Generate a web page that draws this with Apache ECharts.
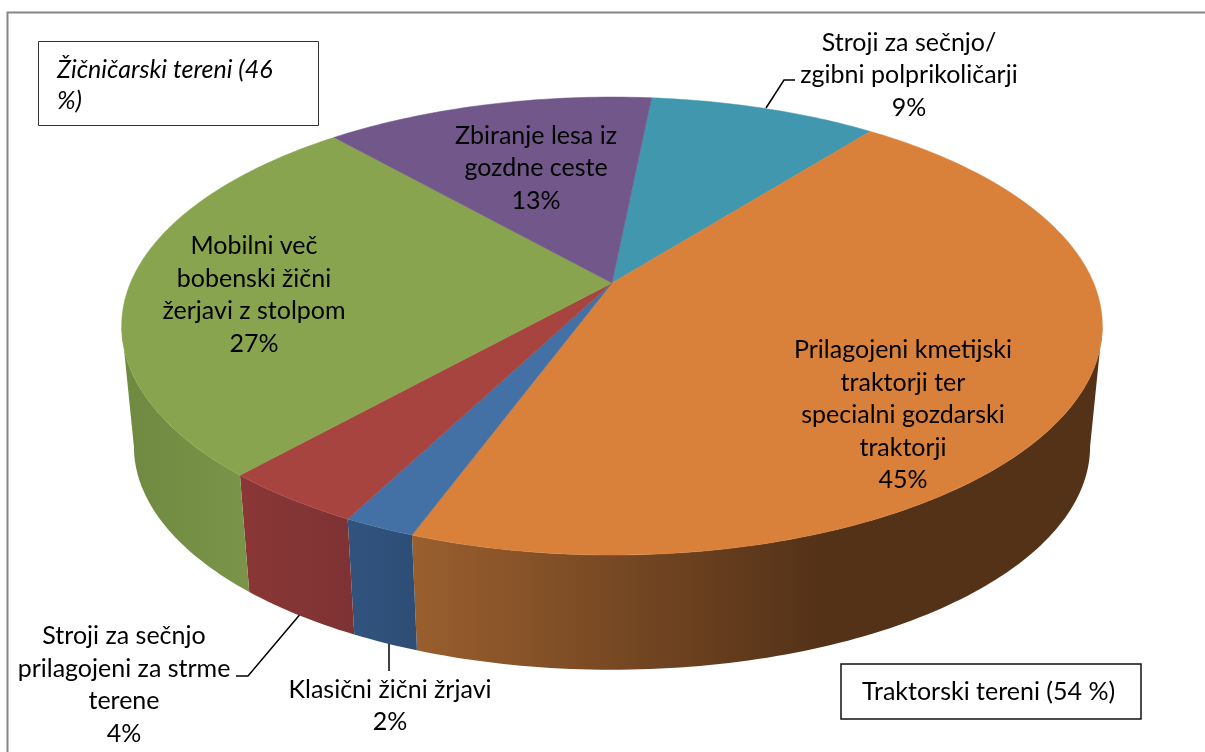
<!DOCTYPE html>
<html>
<head>
<meta charset="utf-8">
<style>
  html, body { margin: 0; padding: 0; background: #fff; }
  #chart { width: 1205px; height: 752px; }
</style>
<script src="https://cdn.jsdelivr.net/npm/echarts@6/dist/echarts.min.js"></script>
</head>
<body>
<div id="chart"></div>
<script>
// data, in drawing order (clockwise from the purple/teal edge)
const categories = [
  'Stroji za sečnjo/\nzgibni polprikoličarji',
  'Prilagojeni kmetijski\ntraktorji ter\nspecialni gozdarski\ntraktorji',
  'Klasični žični žrjavi',
  'Stroji za sečnjo\nprilagojeni za strme\nterene',
  'Mobilni več\nbobenski žični\nžerjavi z stolpom',
  'Zbiranje lesa iz\ngozdne ceste'
];
const shares = [9, 45, 2, 4, 27, 13];
const boxTexts = ['Žičničarski tereni (46\n%)', 'Traktorski tereni (54 %)'];

// styling, same order as the data
const topColors = ['#4197ae', '#d9803b', '#4371a5', '#a8443f', '#89a44f', '#72578b'];
const wallColors = [
  ['#2f6e80', '#2f6e80'],
  ['#9a5f2e', '#543218'],
  ['#31547f', '#2d4d75'],
  ['#8a3736', '#7e3233'],
  ['#6f8a40', '#7a9549'],
  ['#54406a', '#54406a']
];
const labelCenters = [[909, 75], [903, 415], [390, 706], [124, 685], [254, 295], [536, 168]];

const FONT = 'Lato, "Open Sans", sans-serif';
const FONT_SIZE = 25;
const LINE_H = 32.5;

// perspective disc: apex of the slices is not the centre of the ellipse
const CX = 612, CY = 283, RX = 481.6, RY = 220.9, PERSP = 0.188;
const START_ANGLE = 5.6;     // degrees clockwise from straight up
const DEPTH = 121.5, BASE_SCALE = 0.975;
const WIDEST = Math.acos(-PERSP) * 180 / Math.PI;   // angle where the ellipse is widest

const total = shares.reduce((a, b) => a + b, 0);

function sliceAngles(idx) {
  let from = START_ANGLE;
  for (let i = 0; i < idx; i++) from += shares[i] / total * 360;
  return [from, from + shares[idx] / total * 360];
}

function project(deg, base) {
  const a = deg * Math.PI / 180;
  const u = Math.sin(a), v = -Math.cos(a);
  const s = 1 / (1 - PERSP * v);
  const f = base ? BASE_SCALE : 1;
  return [CX + RX * f * u * s, CY + (base ? DEPTH : 0) + RY * f * v * s];
}

function arc(from, to, base) {
  const pts = [];
  const n = Math.max(2, Math.ceil(Math.abs(to - from)));
  for (let i = 0; i <= n; i++) pts.push(project(from + (to - from) * i / n, base));
  return pts;
}

function renderWall(params, api) {
  const idx = params.dataIndex;
  api.value(0);
  const ang = sliceAngles(idx);
  // only the front of the cake shows a wall, cut at the widest point of the ellipse
  const from = Math.max(ang[0], WIDEST), to = Math.min(ang[1], 360 - WIDEST);
  if (to <= from) return null;
  const pts = arc(from, to, false).concat(arc(to, from, true));
  const xs = pts.map(p => p[0]);
  const x0 = Math.min.apply(null, xs), x1 = Math.max.apply(null, xs);
  let stops;
  if (idx === 1) {
    stops = [
      { offset: 0, color: wallColors[idx][1] },
      { offset: 0.41, color: wallColors[idx][1] },
      { offset: 1, color: wallColors[idx][0] }
    ];
  } else {
    stops = [{ offset: 0, color: wallColors[idx][1] }, { offset: 1, color: wallColors[idx][0] }];
  }
  return {
    type: 'polygon',
    shape: { points: pts },
    style: { fill: new echarts.graphic.LinearGradient(x1, 0, x0, 0, stops, true) }
  };
}

function renderTop(params, api) {
  const idx = params.dataIndex;
  api.value(0);
  const ang = sliceAngles(idx);
  return {
    type: 'polygon',
    shape: { points: [[CX, CY]].concat(arc(ang[0], ang[1], false)) },
    style: { fill: topColors[idx], stroke: topColors[idx], lineWidth: 0.5 }
  };
}

function renderLabel(params, api) {
  const idx = params.dataIndex;
  const c = labelCenters[idx];
  return {
    type: 'text',
    style: {
      x: c[0], y: c[1],
      text: categories[idx] + '\n' + api.value(0) + '%',
      font: FONT_SIZE + 'px ' + FONT,
      fill: '#000',
      align: 'center',
      verticalAlign: 'middle',
      lineHeight: LINE_H
    }
  };
}

function leader(points) {
  return {
    type: 'polyline',
    shape: { points: points },
    style: { fill: null, stroke: '#000', lineWidth: 1.5 }
  };
}

const chart = echarts.init(document.getElementById('chart'), null, { renderer: 'canvas' });
chart.setOption({
  animation: false,
  backgroundColor: '#fff',
  graphic: [
    // outer frame, only top and left are in the picture
    { type: 'polyline', shape: { points: [[7.5, 752], [7.5, 12.5], [1205, 12.5]] }, style: { fill: null, stroke: '#868686', lineWidth: 2 } },
    leader([[766, 108], [784, 80], [795, 80]]),
    leader([[302, 612], [248, 676], [236, 676]]),
    leader([[389, 642], [389, 671]]),
    { type: 'rect', shape: { x: 38.5, y: 41.5, width: 280, height: 84 }, style: { fill: '#fff', stroke: '#333', lineWidth: 1 } },
    { type: 'text', style: { x: 57, y: 54, text: boxTexts[0], font: 'italic ' + FONT_SIZE + 'px ' + FONT, fill: '#000', lineHeight: 31 } },
    { type: 'rect', shape: { x: 841, y: 664, width: 300, height: 55 }, style: { fill: '#fff', stroke: '#111', lineWidth: 1.5 } },
    { type: 'text', style: { x: 862, y: 692, text: boxTexts[1], font: FONT_SIZE + 'px ' + FONT, fill: '#000', verticalAlign: 'middle' } }
  ],
  series: [
    { type: 'custom', coordinateSystem: 'none', z: 1, renderItem: renderWall, data: shares, silent: true },
    { type: 'custom', coordinateSystem: 'none', z: 2, renderItem: renderTop, data: shares, silent: true },
    { type: 'custom', coordinateSystem: 'none', z: 3, renderItem: renderLabel, data: shares, silent: true }
  ]
});
</script>
</body>
</html>
